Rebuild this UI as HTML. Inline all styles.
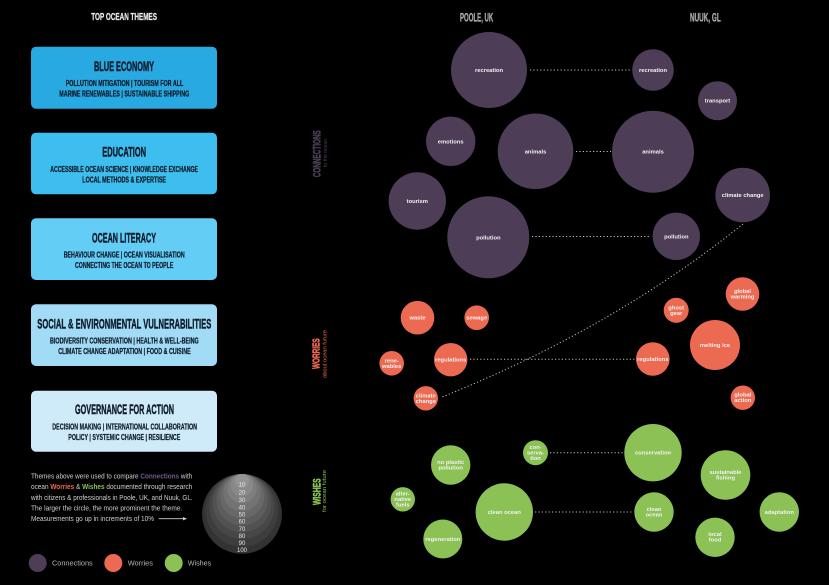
<!DOCTYPE html>
<html>
<head>
<meta charset="utf-8">
<style>
html,body{margin:0;padding:0;background:#000;}
svg{display:block;}
.cond{font-family:"Liberation Sans Narrow","Liberation Sans",sans-serif;font-weight:bold;}
.bt{font-family:"Liberation Sans",sans-serif;font-weight:bold;fill:#f2f2f2;font-size:5.8px;text-anchor:middle;}
.sm{font-family:"Liberation Sans",sans-serif;}
</style>
</head>
<body>
<svg width="829" height="585" viewBox="0 0 829 585" xmlns="http://www.w3.org/2000/svg">
<rect width="829" height="585" fill="#000"/>

<!-- Left heading -->
<text class="cond" x="91.3" y="20" font-size="10" fill="#e6e6e6" stroke="#e6e6e6" stroke-width="0.3" textLength="65.7" lengthAdjust="spacingAndGlyphs">TOP OCEAN THEMES</text>

<!-- Boxes -->
<g fill="#0f1c2b" stroke="#0f1c2b">
<rect x="31" y="46.7" width="186" height="62" rx="5" fill="#29a9e1" stroke="none"/>
<text class="cond" x="94" y="71" font-size="14" stroke-width="0.45" textLength="60" lengthAdjust="spacingAndGlyphs">BLUE ECONOMY</text>
<text class="cond" x="65.7" y="85.8" font-size="8" stroke-width="0.25" textLength="117.6" lengthAdjust="spacingAndGlyphs">POLLUTION MITIGATION | TOURISM FOR ALL</text>
<text class="cond" x="59.3" y="96.4" font-size="8" stroke-width="0.25" textLength="130" lengthAdjust="spacingAndGlyphs">MARINE RENEWABLES | SUSTAINABLE SHIPPING</text>

<rect x="31" y="132.7" width="186" height="61.6" rx="5" fill="#3dbeee" stroke="none"/>
<text class="cond" x="102.3" y="156.7" font-size="14" stroke-width="0.45" textLength="43.7" lengthAdjust="spacingAndGlyphs">EDUCATION</text>
<text class="cond" x="50.3" y="172.1" font-size="8" stroke-width="0.25" textLength="147.7" lengthAdjust="spacingAndGlyphs">ACCESSIBLE OCEAN SCIENCE | KNOWLEDGE EXCHANGE</text>
<text class="cond" x="82.3" y="182.4" font-size="8" stroke-width="0.25" textLength="83.7" lengthAdjust="spacingAndGlyphs">LOCAL METHODS &amp; EXPERTISE</text>

<rect x="31" y="218.3" width="186" height="61.7" rx="5" fill="#63cdf5" stroke="none"/>
<text class="cond" x="92" y="242.3" font-size="14" stroke-width="0.45" textLength="64" lengthAdjust="spacingAndGlyphs">OCEAN LITERACY</text>
<text class="cond" x="63.7" y="257.4" font-size="8" stroke-width="0.25" textLength="121" lengthAdjust="spacingAndGlyphs">BEHAVIOUR CHANGE | OCEAN VISUALISATION</text>
<text class="cond" x="75" y="268.1" font-size="8" stroke-width="0.25" textLength="98.3" lengthAdjust="spacingAndGlyphs">CONNECTING THE OCEAN TO PEOPLE</text>

<rect x="31" y="304.3" width="186" height="61.7" rx="5" fill="#a2dbf6" stroke="none"/>
<text class="cond" x="37.3" y="328.3" font-size="14" stroke-width="0.45" textLength="174" lengthAdjust="spacingAndGlyphs">SOCIAL &amp; ENVIRONMENTAL VULNERABILITIES</text>
<text class="cond" x="50" y="343.4" font-size="8" stroke-width="0.25" textLength="148.7" lengthAdjust="spacingAndGlyphs">BIODIVERSITY CONSERVATION | HEALTH &amp; WELL-BEING</text>
<text class="cond" x="58.3" y="354.1" font-size="8" stroke-width="0.25" textLength="132.4" lengthAdjust="spacingAndGlyphs">CLIMATE CHANGE ADAPTATION | FOOD &amp; CUISINE</text>

<rect x="31" y="390.7" width="186" height="61" rx="5" fill="#cfebf9" stroke="none"/>
<text class="cond" x="75" y="414" font-size="14" stroke-width="0.45" textLength="99" lengthAdjust="spacingAndGlyphs">GOVERNANCE FOR ACTION</text>
<text class="cond" x="52.3" y="429.4" font-size="8" stroke-width="0.25" textLength="144.7" lengthAdjust="spacingAndGlyphs">DECISION MAKING | INTERNATIONAL COLLABORATION</text>
<text class="cond" x="68.3" y="439.8" font-size="8" stroke-width="0.25" textLength="112" lengthAdjust="spacingAndGlyphs">POLICY | SYSTEMIC CHANGE | RESILIENCE</text>
</g>

<!-- Paragraph -->
<g class="sm" font-size="7" fill="#cfcfcf">
<text x="31" y="478.5" textLength="161.3" lengthAdjust="spacingAndGlyphs">Themes above were used to compare <tspan fill="#6e5a8c" font-weight="bold">Connections</tspan> with</text>
<text x="31" y="489.2" textLength="161.3" lengthAdjust="spacingAndGlyphs">ocean <tspan fill="#ec6a52" font-weight="bold">Worries</tspan> &amp; <tspan fill="#8bc155" font-weight="bold">Wishes</tspan> documented through research</text>
<text x="31" y="499.8" textLength="161.7" lengthAdjust="spacingAndGlyphs">with citizens &amp; professionals in Poole, UK, and Nuuk, GL.</text>
<text x="31" y="510.5" textLength="151.3" lengthAdjust="spacingAndGlyphs">The larger the circle, the more prominent the theme.</text>
<text x="31" y="521.2" textLength="123" lengthAdjust="spacingAndGlyphs">Measurements go up in increments of 10%</text>
</g>
<line x1="158.7" y1="518.7" x2="185" y2="518.7" stroke="#cfcfcf" stroke-width="0.8"/>
<polygon points="187,518.7 183,517 183,520.4" fill="#cfcfcf"/>

<!-- Scale circle -->
<g>
<circle cx="242" cy="513.9" r="39.9" fill="#333333"/>
<circle cx="242" cy="510.3" r="36.3" fill="#3d3d3d"/>
<circle cx="242" cy="506.5" r="32.5" fill="#474747"/>
<circle cx="242" cy="503.2" r="29.2" fill="#525252"/>
<circle cx="242" cy="499.7" r="25.7" fill="#5d5d5d"/>
<circle cx="242" cy="496.2" r="22.2" fill="#686868"/>
<circle cx="242" cy="492.7" r="18.7" fill="#737373"/>
<circle cx="242" cy="488.7" r="14.7" fill="#7e7e7e"/>
<circle cx="242" cy="485.2" r="11.2" fill="#898989"/>
<circle cx="242" cy="481" r="7" fill="#949494"/>
</g>
<g class="sm" font-size="6" fill="#e6e6e6" text-anchor="middle">
<text x="242" y="486.4">10</text>
<text x="242" y="494.4">20</text>
<text x="242" y="502.1">30</text>
<text x="242" y="509.4">40</text>
<text x="242" y="516.4">50</text>
<text x="242" y="523.4">60</text>
<text x="242" y="531.1">70</text>
<text x="242" y="537.8">80</text>
<text x="242" y="545.1">90</text>
<text x="242" y="551.8">100</text>
</g>

<!-- Legend -->
<circle cx="37.7" cy="563" r="9" fill="#4d3d57"/>
<circle cx="113.3" cy="563" r="9" fill="#ec6a52"/>
<circle cx="173.7" cy="563" r="9" fill="#8bc155"/>
<g class="sm" font-size="7.5" fill="#b5b5b5">
<text x="52" y="565.6" textLength="40.7" lengthAdjust="spacingAndGlyphs">Connections</text>
<text x="127.7" y="565.6" textLength="25.3" lengthAdjust="spacingAndGlyphs">Worries</text>
<text x="187.7" y="565.6" textLength="23.6" lengthAdjust="spacingAndGlyphs">Wishes</text>
</g>

<!-- Column headings -->
<text class="cond" x="460" y="21.7" font-size="11.5" fill="#a8a8a8" stroke="#a8a8a8" stroke-width="0.35" textLength="33.3" lengthAdjust="spacingAndGlyphs">POOLE, UK</text>
<text class="cond" x="690" y="21.7" font-size="11.5" fill="#a8a8a8" stroke="#a8a8a8" stroke-width="0.35" textLength="30.7" lengthAdjust="spacingAndGlyphs">NUUK, GL</text>

<!-- Vertical labels -->
<text class="cond" transform="translate(320.3,153.7) rotate(-90)" text-anchor="middle" font-size="11" fill="#4d3d57" stroke="#4d3d57" stroke-width="0.5" textLength="47" lengthAdjust="spacingAndGlyphs">CONNECTIONS</text>
<text class="sm" transform="translate(327,153) rotate(-90)" text-anchor="middle" font-size="5" fill="#4d3d57" textLength="28" lengthAdjust="spacingAndGlyphs">to the ocean</text>

<text class="cond" transform="translate(319.5,353.7) rotate(-90)" text-anchor="middle" font-size="10" fill="#ec6a52" stroke="#ec6a52" stroke-width="0.5" textLength="30.7" lengthAdjust="spacingAndGlyphs">WORRIES</text>
<text class="sm" transform="translate(326.5,354) rotate(-90)" text-anchor="middle" font-size="5" fill="#ec6a52" textLength="48" lengthAdjust="spacingAndGlyphs">about ocean future</text>

<text class="cond" transform="translate(320.5,491.7) rotate(-90)" text-anchor="middle" font-size="11" fill="#8bc155" stroke="#8bc155" stroke-width="0.5" textLength="26.7" lengthAdjust="spacingAndGlyphs">WISHES</text>
<text class="sm" transform="translate(326,491) rotate(-90)" text-anchor="middle" font-size="5" fill="#8bc155" textLength="42" lengthAdjust="spacingAndGlyphs">for ocean future</text>

<!-- Dotted connectors -->
<g stroke="#bdbdbd" stroke-width="1" stroke-dasharray="1.2 2.2" fill="none">
<line x1="530" y1="70" x2="631" y2="70"/>
<line x1="576" y1="151.5" x2="611" y2="151.5"/>
<line x1="532" y1="236.5" x2="651" y2="236.5"/>
<line x1="470" y1="359.3" x2="635" y2="359.3"/>
<line x1="550" y1="452.7" x2="623" y2="452.7"/>
<line x1="535" y1="512" x2="633" y2="512"/>
<path d="M743,224 Q611.5,329 442,397"/>
</g>

<!-- Connections (purple) -->
<g fill="#4d3d57">
<circle cx="489" cy="70" r="38"/>
<circle cx="450.7" cy="141.3" r="24.7"/>
<circle cx="535.5" cy="151.3" r="37.8"/>
<circle cx="417.3" cy="201" r="28.7"/>
<circle cx="488.3" cy="237.3" r="41"/>
<circle cx="653" cy="70" r="20.8"/>
<circle cx="717.5" cy="100.7" r="19.5"/>
<circle cx="653" cy="151.7" r="41"/>
<circle cx="742.7" cy="195" r="27.3"/>
<circle cx="676.3" cy="236.3" r="23.7"/>
</g>
<g class="bt">
<text x="489" y="72">recreation</text>
<text x="450.7" y="143.3">emotions</text>
<text x="535.5" y="153.3">animals</text>
<text x="417.3" y="203">tourism</text>
<text x="488.3" y="239.3">pollution</text>
<text x="653" y="72">recreation</text>
<text x="717.5" y="102.7">transport</text>
<text x="653" y="153.7">animals</text>
<text x="742.7" y="197">climate change</text>
<text x="676.3" y="238.3">pollution</text>
</g>

<!-- Worries (red) -->
<g fill="#ec6a52">
<circle cx="417.5" cy="317.7" r="16.8"/>
<circle cx="476.7" cy="317.7" r="12.3"/>
<circle cx="450.7" cy="359.7" r="16.7"/>
<circle cx="391.7" cy="363.3" r="12.3"/>
<circle cx="425.8" cy="398.3" r="12.2"/>
<circle cx="742.5" cy="294" r="16.8"/>
<circle cx="676.2" cy="310.3" r="12.5"/>
<circle cx="715" cy="345" r="25"/>
<circle cx="652.8" cy="359" r="16.8"/>
<circle cx="742.8" cy="397.7" r="12.2"/>
</g>
<g class="bt">
<text x="417.5" y="319.7">waste</text>
<text x="476.7" y="319.7">sewage</text>
<text x="450.7" y="361.7">regulations</text>
<text x="391.7" y="362.3">rene-</text>
<text x="391.7" y="367.8">wables</text>
<text x="425.8" y="397.3">climate</text>
<text x="425.8" y="402.8">change</text>
<text x="742.5" y="293">global</text>
<text x="742.5" y="298.5">warming</text>
<text x="676.2" y="309.3">ghost</text>
<text x="676.2" y="314.8">gear</text>
<text x="715" y="347">melting ice</text>
<text x="652.8" y="361">regulations</text>
<text x="742.8" y="396.7">global</text>
<text x="742.8" y="402.2">action</text>
</g>

<!-- Wishes (green) -->
<g fill="#8bc155">
<circle cx="535.5" cy="452.7" r="12.5"/>
<circle cx="450.7" cy="465" r="19.7"/>
<circle cx="402.8" cy="499.3" r="12.2"/>
<circle cx="504.3" cy="512" r="28.7"/>
<circle cx="442.8" cy="539" r="19.5"/>
<circle cx="653" cy="452.7" r="28.7"/>
<circle cx="725.5" cy="475" r="24.8"/>
<circle cx="654" cy="512" r="19.7"/>
<circle cx="715" cy="537.3" r="19.7"/>
<circle cx="779.3" cy="512" r="19.7"/>
</g>
<g class="bt">
<text x="535.5" y="449">con-</text>
<text x="535.5" y="454.5">serva-</text>
<text x="535.5" y="460">tion</text>
<text x="450.7" y="463.8">no plastic</text>
<text x="450.7" y="469.3">pollution</text>
<text x="402.8" y="495.3">alter-</text>
<text x="402.8" y="500.8">native</text>
<text x="402.8" y="506.3">fuels</text>
<text x="504.3" y="514">clean ocean</text>
<text x="442.8" y="541">regeneration</text>
<text x="653" y="454.7">conservation</text>
<text x="725.5" y="474">sustainable</text>
<text x="725.5" y="479.5">fishing</text>
<text x="654" y="511">clean</text>
<text x="654" y="516.5">ocean</text>
<text x="715" y="536">local</text>
<text x="715" y="541.5">food</text>
<text x="779.3" y="514">adaptation</text>
</g>
</svg>
</body>
</html>
